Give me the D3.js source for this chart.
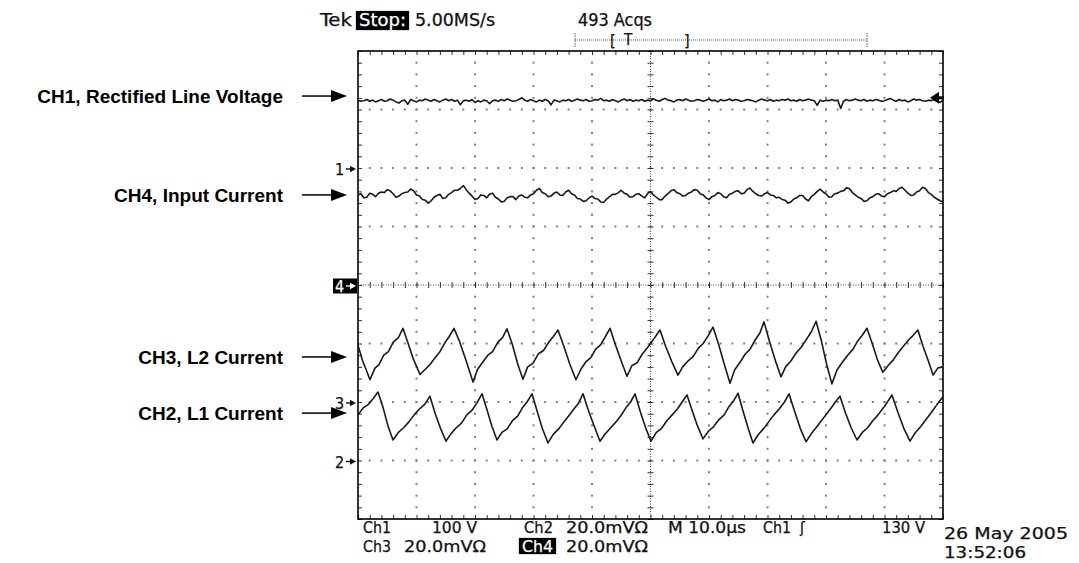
<!DOCTYPE html>
<html><head><meta charset="utf-8">
<script src="https://cdn.jsdelivr.net/npm/d3@7"></script>
<style>
html,body{margin:0;padding:0;background:#fff;}
svg{display:block;}
.scope{font-family:"DejaVu Sans Condensed","DejaVu Sans",sans-serif;font-stretch:condensed;font-size:15.5px;fill:#111;stroke:#111;stroke-width:0.25px;}
.hdr{font-size:17px;}
.lbl{font-family:"Liberation Sans",Arial,sans-serif;font-weight:bold;font-size:19px;fill:#000;}
</style></head><body>
<svg id="c" width="1079" height="563"></svg>
<script>
// ---------------- DATA ----------------
const timeDomain = [0, 100];      // µs across screen (10 µs/div)
const divDomain = [-4, 4];        // vertical divisions
const ch1Step = 0.5;
const ch1Values = [
3.16,3.14,3.15,3.17,3.14,3.16,3.13,3.15,3.17,3.14,
3.15,3.18,3.16,3.13,3.11,3.15,3.16,3.09,3.17,3.15,
3.13,3.16,3.15,3.18,3.16,3.14,3.17,3.15,3.13,3.16,
3.18,3.15,3.17,3.14,3.16,3.08,3.15,3.16,3.14,3.17,
3.12,3.15,3.13,3.16,3.15,3.10,3.15,3.16,3.14,3.17,
3.15,3.18,3.16,3.14,3.15,3.17,3.20,3.16,3.14,3.17,
3.15,3.13,3.16,3.14,3.17,3.15,3.08,3.16,3.15,3.13,
3.16,3.15,3.17,3.14,3.16,3.18,3.16,3.15,3.17,3.14,
3.15,3.17,3.16,3.19,3.15,3.16,3.14,3.17,3.15,3.13,
3.16,3.18,3.15,3.17,3.14,3.16,3.15,3.17,3.14,3.16,
3.15,3.18,3.16,3.14,3.17,3.19,3.16,3.15,3.13,3.16,
3.17,3.15,3.18,3.16,3.14,3.15,3.17,3.16,3.14,3.16,
3.18,3.15,3.16,3.13,3.17,3.15,3.16,3.18,3.15,3.17,
3.16,3.14,3.15,3.17,3.16,3.15,3.13,3.16,3.18,3.16,
3.15,3.17,3.14,3.16,3.15,3.17,3.16,3.18,3.15,3.16,
3.14,3.17,3.15,3.16,3.18,3.16,3.15,3.07,3.16,3.14,
3.16,3.15,3.17,3.15,3.16,3.02,3.14,3.17,3.15,3.16,
3.18,3.16,3.15,3.17,3.14,3.16,3.15,3.17,3.16,3.14,
3.15,3.17,3.19,3.16,3.14,3.17,3.15,3.16,3.13,3.15,
3.18,3.16,3.17,3.15,3.14,3.16,3.15,3.17,3.14,3.12,
3.16];
const ch4Step = 0.5;
const ch4Values = [
1.54,1.56,1.49,1.50,1.57,1.55,1.51,1.57,1.59,1.58,1.63,1.61,1.56,1.50,1.52,1.56,1.58,1.59,1.64,1.61,
1.54,1.52,1.46,1.45,1.40,1.44,1.50,1.53,1.55,1.48,1.49,1.55,1.58,1.62,1.62,1.65,1.70,1.63,1.57,1.52,
1.46,1.48,1.54,1.53,1.49,1.55,1.57,1.50,1.47,1.42,1.43,1.49,1.51,1.51,1.46,1.52,1.54,1.50,1.49,1.54,
1.56,1.62,1.65,1.58,1.56,1.51,1.52,1.57,1.59,1.54,1.53,1.59,1.62,1.56,1.54,1.48,1.47,1.43,1.44,1.49,
1.52,1.48,1.47,1.42,1.41,1.47,1.51,1.55,1.55,1.58,1.62,1.57,1.55,1.50,1.51,1.55,1.56,1.52,1.49,1.56,
1.60,1.54,1.50,1.46,1.46,1.52,1.56,1.61,1.63,1.58,1.56,1.52,1.53,1.57,1.59,1.63,1.62,1.56,1.54,1.49,
1.46,1.51,1.53,1.58,1.56,1.51,1.49,1.55,1.57,1.60,1.61,1.56,1.57,1.63,1.66,1.60,1.56,1.53,1.52,1.56,
1.58,1.54,1.53,1.49,1.50,1.46,1.45,1.40,1.42,1.47,1.49,1.53,1.53,1.47,1.44,1.51,1.55,1.60,1.64,1.59,
1.56,1.50,1.51,1.56,1.57,1.60,1.61,1.66,1.65,1.58,1.54,1.50,1.48,1.43,1.44,1.49,1.51,1.55,1.56,1.52,
1.51,1.56,1.58,1.61,1.60,1.65,1.67,1.62,1.57,1.53,1.54,1.59,1.61,1.67,1.65,1.58,1.55,1.50,1.47,1.44,
1.42];
const ch3Times = [0,0.8,1.4,2.05,2.9,3.6,4.4,5.2,6.0,6.9,7.69,8.5,9.4,10.6,11.5,12.3,13.2,14.0,14.9,15.6,16.4,17.3,18.5,19.66,20.4,21.3,22.2,23.0,23.9,24.7,25.47,26.4,27.3,28.2,29.0,29.9,30.8,31.7,32.6,33.4,34.19,35.2,36.2,37.26,38.1,38.9,39.8,40.6,41.5,42.3,43.08,44.0,45.0,45.98,46.8,47.7,48.6,49.4,50.3,51.0,51.62,52.6,53.6,54.7,55.5,56.4,57.3,58.2,59.0,59.9,60.68,61.6,62.6,63.59,64.4,65.3,66.2,67.0,67.9,68.7,69.4,70.3,71.3,72.3,73.1,74.0,74.9,75.8,76.7,77.5,78.3,79.2,80.1,81.0,81.9,82.8,83.7,84.6,85.4,86.2,87.0,87.9,88.8,89.7,90.6,91.5,92.4,93.3,94.1,94.9,95.7,96.6,97.5,98.3,99.1,100];
const ch3Values = [-1.03,-1.30,-1.45,-1.62,-1.42,-1.36,-1.20,-1.14,-0.98,-0.90,-0.74,-0.98,-1.25,-1.53,-1.44,-1.36,-1.24,-1.14,-0.98,-0.88,-0.74,-0.95,-1.30,-1.66,-1.45,-1.32,-1.20,-1.14,-0.98,-0.90,-0.75,-1.02,-1.35,-1.61,-1.40,-1.34,-1.18,-1.12,-0.98,-0.88,-0.77,-1.05,-1.35,-1.62,-1.44,-1.32,-1.24,-1.10,-1.02,-0.88,-0.74,-1.02,-1.30,-1.56,-1.38,-1.33,-1.18,-1.08,-0.96,-0.86,-0.77,-1.05,-1.30,-1.54,-1.40,-1.30,-1.22,-1.08,-1.00,-0.86,-0.72,-1.00,-1.35,-1.68,-1.45,-1.32,-1.18,-1.10,-0.94,-0.82,-0.63,-0.95,-1.28,-1.57,-1.40,-1.30,-1.16,-1.06,-0.92,-0.80,-0.62,-0.95,-1.35,-1.69,-1.45,-1.32,-1.20,-1.10,-0.96,-0.86,-0.74,-1.00,-1.28,-1.49,-1.38,-1.28,-1.15,-1.04,-0.94,-0.86,-0.77,-1.05,-1.30,-1.54,-1.42,-1.40];
const ch2Times = [0,0.9,1.8,2.6,3.42,4.3,5.1,5.98,6.9,7.8,8.7,9.6,10.5,11.4,12.3,13.2,14.1,15.04,15.9,16.8,17.7,18.6,19.5,20.3,21.2,22.1,22.9,23.76,24.6,25.5,26.4,27.3,28.1,28.9,29.74,30.6,31.5,32.48,33.4,34.3,35.2,36.0,36.9,37.7,38.46,39.4,40.4,41.37,42.3,43.2,44.1,44.9,45.8,46.6,47.35,48.3,49.2,50.09,51.0,51.9,52.8,53.7,54.6,55.4,56.24,57.1,58.0,58.97,59.9,60.8,61.7,62.6,63.4,64.2,64.96,65.8,66.7,67.52,68.4,69.3,70.2,71.1,72.0,72.9,73.68,74.6,75.6,76.58,77.5,78.3,79.2,80.0,80.9,81.6,82.39,83.3,84.3,85.3,86.2,87.1,88.0,88.9,89.8,90.5,91.28,92.3,93.3,94.36,95.3,96.2,97.1,98.0,99.0,100];
const ch2Values = [-2.22,-2.10,-2.04,-1.94,-1.83,-2.10,-2.40,-2.65,-2.52,-2.44,-2.34,-2.22,-2.12,-2.04,-1.90,-2.20,-2.45,-2.67,-2.54,-2.44,-2.36,-2.22,-2.14,-2.02,-1.86,-2.15,-2.42,-2.65,-2.52,-2.46,-2.32,-2.24,-2.10,-2.00,-1.86,-2.15,-2.45,-2.70,-2.55,-2.46,-2.34,-2.24,-2.12,-2.02,-1.86,-2.15,-2.42,-2.67,-2.54,-2.44,-2.34,-2.24,-2.10,-2.00,-1.86,-2.18,-2.45,-2.67,-2.52,-2.45,-2.32,-2.22,-2.12,-2.00,-1.88,-2.14,-2.40,-2.63,-2.50,-2.42,-2.30,-2.22,-2.08,-1.98,-1.85,-2.15,-2.45,-2.70,-2.56,-2.46,-2.34,-2.22,-2.12,-2.00,-1.86,-2.15,-2.45,-2.68,-2.54,-2.44,-2.32,-2.22,-2.10,-2.00,-1.90,-2.18,-2.44,-2.65,-2.52,-2.44,-2.32,-2.22,-2.10,-2.00,-1.88,-2.18,-2.45,-2.67,-2.52,-2.42,-2.30,-2.18,-2.04,-1.91];
const channelLabels = ["CH1, Rectified Line Voltage", "CH4, Input Current", "CH3, L2 Current", "CH2, L1 Current"];
const channelLabelLevels = [3.23, 1.54, -1.23, -2.19];
const groundLabels = ["1", "4", "3", "2"];
const groundLevels = [2, 0, -2, -3];
const triggerLevel = 3.2;
const headerTexts = ["Tek", "Stop:", "5.00MS/s", "493 Acqs"];
const footerLine1 = ["Ch1", "100 V", "Ch2", "20.0mVΩ", "M 10.0µs", "Ch1", "ʃ", "130 V"];
const footerLine2 = ["Ch3", "20.0mVΩ", "Ch4", "20.0mVΩ"];
const dateTexts = ["26 May 2005", "13:52:06"];

// ---------------- DRAW ----------------
const svg = d3.select("#c");
const x = d3.scaleLinear().domain(timeDomain).range([358, 943]);
const y = d3.scaleLinear().domain(divDomain).range([519, 51]);
const minorT = d3.range(0, 100.001, 2);
const minorD = d3.range(-4, 4.001, 0.2).map(v => Math.round(v * 10) / 10);

// grid dots
const grid = svg.append("g");
[-3, -2, -1, 1, 2, 3].forEach(lv => {
  grid.selectAll(null).data(minorT.filter(t => t > 0 && t < 100)).enter().append("rect")
    .attr("x", t => x(t) - 1).attr("y", y(lv) - 1).attr("width", 2).attr("height", 2).attr("fill", "#808080");
});
[10, 20, 30, 40, 60, 70, 80, 90].forEach(t => {
  grid.selectAll(null).data(minorD.filter(v => v > -4 && v < 4)).enter().append("rect")
    .attr("x", x(t) - 1).attr("y", v => y(v) - 1).attr("width", 2).attr("height", 2).attr("fill", "#808080");
});
// centre cross
grid.append("line").attr("x1", x(0)).attr("x2", x(100)).attr("y1", y(0)).attr("y2", y(0))
  .attr("stroke", "#444").attr("stroke-dasharray", "1,1.5");
grid.append("line").attr("x1", x(50)).attr("x2", x(50)).attr("y1", y(4)).attr("y2", y(-4))
  .attr("stroke", "#444").attr("stroke-dasharray", "1,1.5");
function styleAxis(g) { g.select(".domain").remove(); g.selectAll("line").attr("stroke", "#333"); }
svg.append("g").attr("transform", `translate(0,${y(0) - 3})`)
  .call(d3.axisBottom(x).tickValues(minorT).tickSize(6).tickFormat("")).call(styleAxis);
svg.append("g").attr("transform", `translate(${x(50) - 3},0)`)
  .call(d3.axisRight(y).tickValues(minorD).tickSize(6).tickFormat("")).call(styleAxis);
// border ticks
svg.append("g").attr("transform", `translate(0,${y(4)})`).call(d3.axisTop(x).tickValues(minorT).tickSize(-4).tickFormat("")).call(styleAxis);
svg.append("g").attr("transform", `translate(0,${y(-4)})`).call(d3.axisBottom(x).tickValues(minorT).tickSize(-4).tickFormat("")).call(styleAxis);
svg.append("g").attr("transform", `translate(${x(0)},0)`).call(d3.axisLeft(y).tickValues(minorD).tickSize(-4).tickFormat("")).call(styleAxis);
svg.append("g").attr("transform", `translate(${x(100)},0)`).call(d3.axisRight(y).tickValues(minorD).tickSize(-4).tickFormat("")).call(styleAxis);
// border
svg.append("rect").attr("x", x(0)).attr("y", y(4)).attr("width", x(100) - x(0)).attr("height", y(-4) - y(4))
  .attr("fill", "none").attr("stroke", "#000").attr("stroke-width", 1.6);

// traces
const line = d3.line().x(d => x(d[0])).y(d => y(d[1]));
const traces = [
  ch1Values.map((v, i) => [i * ch1Step, v]),
  ch4Values.map((v, i) => [i * ch4Step, v]),
  ch3Times.map((t, i) => [t, ch3Values[i]]),
  ch2Times.map((t, i) => [t, ch2Values[i]])
];
svg.append("g").selectAll("path").data(traces).enter().append("path")
  .attr("d", line).attr("fill", "none").attr("stroke", "#1a1a1a").attr("stroke-width", 1.6).attr("stroke-linejoin", "round");

// ground markers
groundLabels.forEach((lab, i) => {
  const yy = y(groundLevels[i]) + 1;
  const g = svg.append("g");
  const inv = lab === "4";
  if (inv) g.append("rect").attr("x", 333).attr("y", yy - 7.5).attr("width", 24).attr("height", 15).attr("fill", "#000");
  const col = inv ? "#fff" : "#111";
  g.append("text").attr("class", "scope").attr("x", 335).attr("y", yy + 6)
    .style("fill", col).style("stroke", col).style("font-size", "16px").text(lab);
  g.append("line").attr("x1", 346).attr("x2", 352).attr("y1", yy).attr("y2", yy).attr("stroke", col).attr("stroke-width", 1.4);
  g.append("path").attr("d", `M350,${yy - 3.2}L356,${yy}L350,${yy + 3.2}Z`).attr("fill", col);
});

// trigger level marker (right)
{
  const yy = y(triggerLevel);
  svg.append("path").attr("d", `M930,${yy}L939,${yy - 6}L939,${yy + 6}Z`).attr("fill", "#000");
  svg.append("rect").attr("x", 938).attr("y", yy - 1.5).attr("width", 6).attr("height", 3).attr("fill", "#000");
}

// channel labels with arrows
channelLabels.forEach((t, i) => {
  const yy = y(channelLabelLevels[i]);
  svg.append("text").attr("class", "lbl").attr("x", 283).attr("y", yy + 7).attr("text-anchor", "end").text(t);
  svg.append("line").attr("x1", 302).attr("x2", 334).attr("y1", yy).attr("y2", yy).attr("stroke", "#000").attr("stroke-width", 1.5);
  svg.append("path").attr("d", `M331,${yy - 6}L347,${yy}L331,${yy + 6}Z`).attr("fill", "#000");
});

// helper for scope text with fixed width
function stext(g, str, xx, yy, w, col) {
  const t = g.append("text").attr("x", xx).attr("y", yy).text(str);
  if (w) t.attr("textLength", w).attr("lengthAdjust", "spacingAndGlyphs");
  if (col) t.style("fill", col).style("stroke", col);
  return t;
}

// header
const hdr = svg.append("g").attr("class", "scope hdr");
stext(hdr, headerTexts[0], 320, 26, 32);
hdr.append("rect").attr("x", 356).attr("y", 11).attr("width", 53).attr("height", 19).attr("fill", "#000");
stext(hdr, headerTexts[1], 359, 26, 47, "#fff");
stext(hdr, headerTexts[2], 415, 26, 80);
stext(hdr, headerTexts[3], 578, 26, 74);
// trigger position bar
hdr.append("line").attr("x1", 575).attr("x2", 867).attr("y1", 40).attr("y2", 40).attr("stroke", "#555").attr("stroke-width", 1).attr("stroke-dasharray", "1,1");
[575, 867].forEach(xx => hdr.append("line").attr("x1", xx).attr("x2", xx).attr("y1", 33).attr("y2", 47).attr("stroke", "#555").attr("stroke-width", 1).attr("stroke-dasharray", "1.5,1"));
hdr.append("text").attr("x", 610).attr("y", 46).style("font-size", "16px").text("[");
hdr.append("text").attr("x", 624).attr("y", 45).style("font-size", "15px").text("T");
hdr.append("text").attr("x", 684).attr("y", 46).style("font-size", "16px").text("]");

// footer
const ft = svg.append("g").attr("class", "scope");
const f1x = [363, 432, 524, 566, 668, 763, 800, 882];
const f1w = [28, 45, 29, 82, 78, 28, 0, 43];
footerLine1.forEach((t, i) => stext(ft, t, f1x[i], 533, f1w[i]));
const f2x = [363, 404, 522, 566];
const f2w = [28, 82, 31, 82];
ft.append("rect").attr("x", 519).attr("y", 538).attr("width", 37).attr("height", 16).attr("fill", "#000");
footerLine2.forEach((t, i) => stext(ft, t, f2x[i], 551.5, f2w[i], i === 2 ? "#fff" : null));
stext(ft, dateTexts[0], 944, 539, 124);
stext(ft, dateTexts[1], 944, 558, 82);
</script>
</body></html>
